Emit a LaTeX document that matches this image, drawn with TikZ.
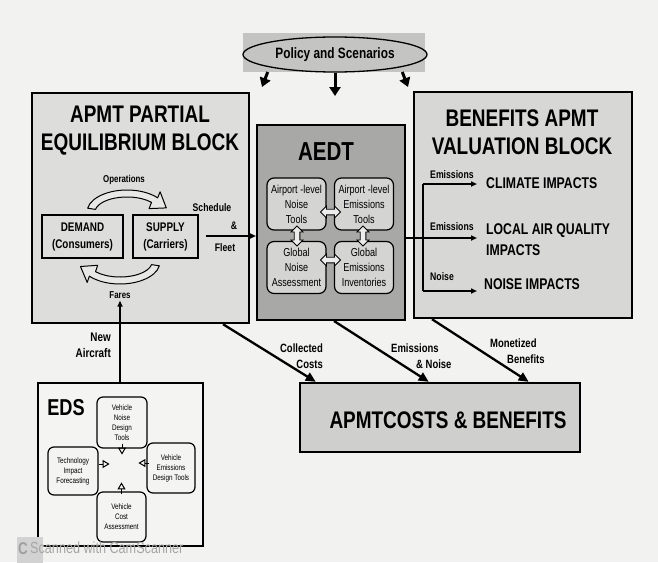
\documentclass[tikz,border=0pt]{standalone}
\usepackage{fontspec}
\setmainfont{Liberation Sans}[FakeStretch=0.79]
\usetikzlibrary{arrows.meta,calc,shapes.geometric}
\definecolor{paper}{HTML}{F2F2F0}
\definecolor{pegray}{HTML}{DDDDDB}
\definecolor{benegray}{HTML}{D7D7D5}
\definecolor{aedtgray}{HTML}{A8A8A6}
\definecolor{innergray}{HTML}{D4D4D2}
\definecolor{costgray}{HTML}{CFCFCD}
\definecolor{policygray}{HTML}{C4C4C2}
\definecolor{edsfill}{HTML}{F4F4F2}
\definecolor{curvefill}{HTML}{E8E8E6}
\begin{document}
\begin{tikzpicture}[x=1pt,y=-1pt,
  block/.style={draw=black,line width=2.4pt,inner sep=0pt},
  bigtitle/.style={font=\bfseries\fontsize{24}{28}\selectfont,align=center,inner sep=0pt},
  lbl/.style={font=\bfseries\fontsize{12}{16}\selectfont,inner sep=0pt},
  smalllbl/.style={font=\bfseries\fontsize{11}{14}\selectfont,inner sep=0pt},
  impact/.style={font=\bfseries\fontsize{15.5}{21}\selectfont,inner sep=0pt,anchor=west,align=left},
  aedtin/.style={draw,line width=1.2pt,rounded corners=7pt,fill=innergray,minimum width=59pt,minimum height=52pt,align=center,inner sep=0pt,font=\fontsize{11.5}{15}\selectfont},
  edsin/.style={draw,line width=1.2pt,rounded corners=6pt,fill=edsfill,minimum width=50pt,minimum height=50pt,align=center,inner sep=0pt,font=\fontsize{8}{10}\selectfont},
  pebox/.style={draw,line width=1.3pt,fill=pegray,minimum height=43pt,align=center,inner sep=0pt,font=\bfseries\fontsize{12.5}{17}\selectfont},
  conn/.style={line width=1.5pt,-{Triangle[length=6pt,width=5pt]}},
  diag/.style={line width=2.3pt,-{Triangle[length=10pt,width=9pt]}},
  polarrow/.style={line width=3pt,-{Triangle[length=9pt,width=11pt]}},
  edsarrow/.style={line width=1pt,-{Triangle[open,length=7pt,width=8pt]}},
  curvy/.style={draw,line width=1pt,fill=curvefill,line join=round},
  dbl/.pic={\draw[line width=0.9pt,fill=white!85!gray,line join=miter]
     (-10,0) -- (-4,-6) -- (-4,-2.8) -- (4,-2.8) -- (4,-6) -- (10,0) -- (4,6) -- (4,2.8) -- (-4,2.8) -- (-4,6) -- cycle;}
]
\fill[paper] (0,0) rectangle (658,562);
\useasboundingbox (0,0) rectangle (658,562);

% policy
\fill[policygray] (243,33) rectangle (425,72);
\node[ellipse,draw,line width=1.3pt,fill=policygray,minimum width=184pt,minimum height=35pt,inner sep=0pt,font=\bfseries\fontsize{15}{18}\selectfont] (policy) at (335,54.5) {Policy and Scenarios};

% blocks
\node[block,fill=pegray,minimum width=217pt,minimum height=230pt] (pe) at (140.5,208) {};
\node[block,fill=aedtgray,line width=2pt,minimum width=148pt,minimum height=195pt] (aedt) at (331,222.5) {};
\node[block,fill=benegray,minimum width=218pt,minimum height=226pt] (bene) at (523,205) {};
\node[block,fill=costgray,minimum width=280pt,minimum height=69pt] (costs) at (440,417.5) {};
\node[block,fill=edsfill,minimum width=165pt,minimum height=163pt] (eds) at (120.5,464.5) {};

% policy arrows
\coordinate (pa1) at (262,87);
\coordinate (pa2) at (335,96);
\coordinate (pa3) at (408,87);
\draw[polarrow,shorten <=5pt] (policy.south west) -- (pa1);
\draw[polarrow] (policy.south) -- (pa2);
\draw[polarrow,shorten <=5pt] (policy.south east) -- (pa3);

% titles
\node[bigtitle] (petitle) at (140,131) {APMT PARTIAL\\EQUILIBRIUM BLOCK};
\node[bigtitle] (benetitle) at (522,132) {BENEFITS APMT\\VALUATION BLOCK};
\node[bigtitle,font=\bfseries\fontsize{26}{30}\selectfont] (aedttitle) at (326,152) {AEDT};
\node[bigtitle,font=\bfseries\fontsize{23}{28}\selectfont] (edstitle) at (66,408) {EDS};
\node[bigtitle] (coststitle) at (448,420) {APMTCOSTS \& BENEFITS};

% partial equilibrium block
\node[pebox,minimum width=81pt] (demand) at (82.5,236.5) {DEMAND\\(Consumers)};
\node[pebox,minimum width=65pt] (supply) at (165.5,236.5) {SUPPLY\\(Carriers)};
\begin{scope}[shift={(127,212)}]
\path[curvy] (190:40 and 22) arc[start angle=190,end angle=320,x radius=40,y radius=22]
  -- (33.1,-20.2) -- (39.3,-4.1) -- (22.1,-3.4)
  -- (320:32 and 15) arc[start angle=320,end angle=190,x radius=32,y radius=15] -- cycle;
\end{scope}
\begin{scope}[shift={(120,262)}]
\path[curvy] (10:40 and 22) arc[start angle=10,end angle=140,x radius=40,y radius=22]
  -- (-32.8,20.4) -- (-39.5,4.5) -- (-22.3,3.3)
  -- (140:32 and 15) arc[start angle=140,end angle=10,x radius=32,y radius=15] -- cycle;
\end{scope}
\node[font=\bfseries\fontsize{10}{12}\selectfont,inner sep=0pt] (ops) at (124,180) {Operations};
\node[font=\bfseries\fontsize{10}{12}\selectfont,inner sep=0pt] (fares) at (120,295) {Fares};
\node[smalllbl] (sched) at (212,208) {Schedule};
\node[smalllbl] (amp) at (234,226) {\&};
\node[smalllbl] (fleet) at (225,248) {Fleet};
\coordinate (sf) at (206,236);
\draw[conn] (sf) -- (sf -| aedt.west);

% AEDT inner
\node[aedtin] (ann) at (296.5,204) {Airport -level\\Noise\\Tools};
\node[aedtin] (aen) at (364,204) {Airport -level\\Emissions\\Tools};
\node[aedtin] (gna) at (296.5,267.5) {Global\\Noise\\Assessment};
\node[aedtin] (gei) at (364,267.5) {Global\\Emissions\\Inventories};
\pic at (330.5,212) {dbl};
\pic at (330.5,260) {dbl};
\pic[rotate=90] at (297,236) {dbl};
\pic[rotate=90] at (363,236) {dbl};

% benefits
\node[smalllbl,anchor=west] (em1) at (430,175) {Emissions};
\node[smalllbl,anchor=west] (em2) at (430,227) {Emissions};
\node[smalllbl,anchor=west] (nz) at (430,277) {Noise};
\node[impact] (clim) at (486,183) {CLIMATE IMPACTS};
\node[impact] (laq) at (486,240) {LOCAL AIR QUALITY\\IMPACTS};
\node[impact] (nimp) at (484,284) {NOISE IMPACTS};
\coordinate (br) at (423,238);
\coordinate (brtop) at (423,184);
\coordinate (brbot) at (423,291);
\draw[line width=1.5pt] (br -| aedt.east) -- (br);
\draw[line width=1.5pt] (brtop) -- (brbot);
\draw[conn,shorten >=9pt] (brtop) -- (brtop -| clim.west);
\draw[conn,shorten >=9pt] (br) -- (br -| laq.west);
\draw[conn,shorten >=7pt] (brbot) -- (brbot -| nimp.west);

% diagonal connectors
\draw[diag] ($(pe.south west)!0.876!(pe.south east)$) -- ($(costs.north west)!0.06!(costs.north east)$);
\draw[diag] ($(aedt.south west)!0.52!(aedt.south east)$) -- ($(costs.north west)!0.46!(costs.north east)$);
\draw[diag] ($(bene.south west)!0.087!(bene.south east)$) -- ($(costs.north west)!0.814!(costs.north east)$);
\node[lbl,anchor=east,align=right] (collected) at (323,356) {Collected\\Costs};
\node[lbl,anchor=west,align=left] (emno) at (391,356) {Emissions\\\hspace*{25pt}\& Noise};
\node[lbl,anchor=west,align=left] (monet) at (490,351) {Monetized\\\hspace*{17pt}Benefits};

% EDS to PE
\node[lbl,anchor=east,align=right,font=\bfseries\fontsize{12.5}{16}\selectfont] (newac) at (111,345) {New\\Aircraft};
\draw[conn,shorten >=2pt] (fares.south |- eds.north) -- (fares.south);

% EDS inner
\node[edsin,minimum width=50pt,minimum height=51pt] (vnd) at (122,422.5) {Vehicle\\Noise\\Design\\Tools};
\node[edsin,minimum width=50pt,minimum height=48pt] (tif) at (73,471) {Technology\\Impact\\Forecasting};
\node[edsin,minimum width=48pt,minimum height=50pt] (ved) at (171,468) {Vehicle\\Emissions\\Design Tools};
\node[edsin,minimum width=49pt,minimum height=50pt] (vca) at (121.5,517) {Vehicle\\Cost\\Assessment};
\draw[edsarrow] ($(vnd.south)+(0,-5)$) -- ($(vnd.south)+(0,6)$);
\draw[edsarrow] ($(tif.east)+(0,-7)$) -- ($(tif.east)+(11,-7)$);
\draw[edsarrow] ($(ved.west)+(3,-5)$) -- ($(ved.west)+(-8,-5)$);
\draw[edsarrow] ($(vca.north)+(0,3)$) -- ($(vca.north)+(0,-9)$);

% scanner watermark
\node[fill=gray!35,minimum width=26pt,minimum height=26pt,inner sep=0pt,anchor=north west] (cslogo) at (17,537) {};
\node[text=gray!75,font=\bfseries\fontsize{17}{17}\selectfont,inner sep=0pt,anchor=west] (csc) at (18,549) {C};
\node[text=gray!70,font=\fontsize{16}{16}\selectfont,inner sep=0pt,anchor=west] (camtext) at (30,548) {Scanned with CamScanner};
\end{tikzpicture}
\end{document}
